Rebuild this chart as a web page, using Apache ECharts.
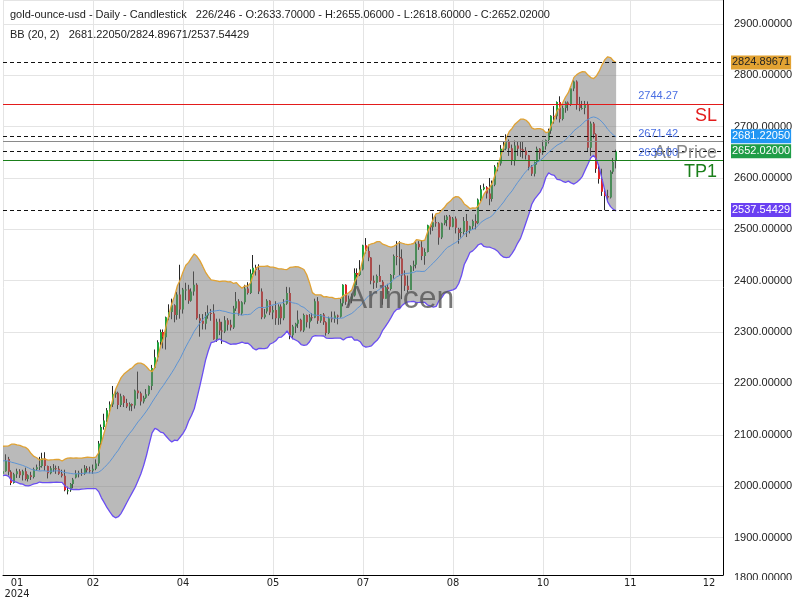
<!DOCTYPE html>
<html><head><meta charset="utf-8">
<script src="https://cdn.jsdelivr.net/npm/echarts@6/dist/echarts.min.js"></script>
<style>html,body{margin:0;padding:0;background:#fff}#c{width:800px;height:600px}</style>
</head><body><div id="c"></div><script>
// ---------------- data ----------------
const headerLine1 = 'gold-ounce-usd - Daily - Candlestick   226/246 - O:2633.70000 - H:2655.06000 - L:2618.60000 - C:2652.02000';
const headerLine2 = 'BB (20, 2)   2681.22050/2824.89671/2537.54429';
const watermark = 'Arincen';

// closes before the first visible candle (needed for the 20-period band)
const warmupCloses = [2040,2045,2050,2048,2060,2055,2063,2058,2068,2077,2066,2053,2060,2042,2043,2045,2027,2030,2024];

const opens = [2024,2029,2053,2028,2006,2023,2029,2021,2029,2014,2021,2018,2033,2037,2039,2054,2039,2025,2035,2035,2034,2024,2020,1992,1992,2004,2017,2024,2026,2024,2035,2031,2030,2034,2044,2083,2115,2128,2148,2159,2179,2182,2158,2175,2162,2155,2160,2157,2186,2181,2165,2172,2179,2195,2230,2251,2280,2300,2290,2329,2339,2352,2333,2373,2344,2383,2383,2361,2379,2392,2327,2322,2316,2332,2337,2336,2286,2320,2303,2301,2323,2314,2309,2346,2360,2336,2358,2385,2376,2414,2425,2421,2379,2329,2340,2361,2338,2343,2327,2350,2327,2355,2376,2294,2311,2316,2324,2303,2333,2319,2329,2328,2360,2322,2334,2319,2298,2327,2326,2332,2330,2356,2392,2359,2364,2371,2415,2411,2422,2469,2458,2445,2400,2396,2409,2398,2365,2387,2384,2411,2448,2446,2443,2410,2390,2382,2428,2431,2472,2465,2448,2456,2508,2504,2514,2512,2484,2512,2518,2525,2505,2521,2500,2493,2495,2516,2497,2506,2516,2512,2558,2578,2582,2570,2559,2587,2622,2628,2657,2657,2672,2658,2634,2663,2657,2656,2653,2644,2622,2608,2631,2657,2649,2662,2674,2692,2721,2720,2748,2715,2736,2747,2743,2774,2788,2744,2736,2736,2742,2659,2706,2685,2618,2598,2573,2565,2562,2612,2633.70];
const highs = [2040,2062,2057,2031,2026,2034,2033,2032,2036,2023,2028,2036,2042,2057,2065,2066,2040,2039,2043,2040,2039,2032,2032,1999,2006,2016,2031,2030,2034,2041,2039,2038,2042,2052,2088,2120,2141,2152,2165,2195,2189,2184,2180,2177,2170,2163,2161,2188,2223,2184,2176,2189,2196,2236,2266,2284,2305,2305,2330,2354,2365,2354,2378,2431,2386,2396,2392,2385,2418,2395,2335,2335,2339,2352,2345,2354,2326,2326,2320,2331,2327,2324,2351,2378,2364,2360,2392,2397,2422,2450,2431,2432,2385,2345,2364,2362,2351,2360,2354,2354,2364,2388,2387,2314,2318,2342,2326,2336,2334,2335,2337,2365,2368,2335,2337,2321,2330,2340,2340,2334,2365,2393,2393,2371,2375,2424,2424,2440,2470,2483,2470,2446,2410,2412,2431,2401,2390,2394,2413,2451,2477,2477,2461,2420,2410,2430,2439,2475,2477,2479,2463,2509,2509,2531,2525,2514,2513,2527,2528,2528,2524,2525,2503,2503,2524,2530,2507,2519,2529,2560,2586,2589,2584,2600,2595,2625,2630,2664,2670,2685,2675,2665,2673,2670,2672,2670,2660,2645,2625,2632,2661,2658,2673,2675,2696,2722,2740,2749,2759,2741,2749,2749,2775,2790,2790,2758,2750,2750,2749,2710,2709,2687,2627,2618,2580,2577,2615,2639,2655.06];
const lows = [2013,2028,2021,2002,2005,2016,2016,2011,2011,2009,2012,2015,2030,2031,2036,2030,2015,2023,2028,2024,2022,2017,1990,1984,1989,1996,2015,2017,2020,2022,2026,2025,2024,2031,2039,2076,2110,2125,2140,2154,2172,2150,2154,2154,2152,2147,2146,2151,2170,2157,2161,2170,2176,2187,2228,2243,2274,2268,2266,2323,2325,2319,2324,2326,2336,2362,2355,2359,2371,2324,2291,2305,2305,2326,2322,2285,2281,2294,2277,2298,2303,2303,2306,2341,2332,2333,2354,2373,2374,2412,2410,2374,2325,2326,2336,2333,2325,2314,2314,2315,2323,2353,2286,2286,2298,2308,2301,2300,2309,2307,2322,2327,2316,2318,2314,2293,2296,2319,2318,2315,2328,2350,2353,2352,2356,2369,2391,2409,2420,2453,2438,2393,2384,2386,2398,2353,2365,2374,2381,2404,2430,2410,2364,2380,2377,2382,2419,2424,2460,2440,2431,2455,2490,2497,2505,2470,2481,2508,2506,2499,2504,2492,2472,2484,2490,2485,2492,2500,2500,2510,2554,2576,2560,2547,2554,2584,2613,2624,2652,2654,2643,2625,2624,2643,2641,2638,2636,2615,2604,2603,2626,2636,2645,2655,2667,2686,2706,2714,2708,2712,2727,2731,2740,2769,2733,2730,2733,2724,2652,2643,2677,2610,2589,2565,2537,2555,2560,2608,2618.60];
const closes = [2029,2049,2028,2006,2023,2029,2021,2029,2014,2021,2018,2033,2037,2039,2054,2039,2025,2035,2035,2034,2024,2020,1992,1992,2004,2013,2024,2026,2024,2035,2031,2030,2034,2044,2083,2115,2128,2148,2159,2179,2182,2158,2175,2162,2155,2160,2157,2186,2181,2165,2172,2179,2195,2230,2251,2280,2300,2290,2329,2339,2352,2333,2373,2344,2383,2383,2361,2379,2392,2327,2322,2316,2332,2337,2336,2286,2320,2303,2301,2323,2314,2309,2346,2360,2336,2358,2385,2376,2414,2425,2421,2379,2329,2334,2361,2338,2343,2327,2350,2327,2355,2376,2294,2311,2316,2324,2303,2333,2319,2329,2328,2360,2322,2334,2319,2298,2327,2326,2332,2330,2356,2392,2359,2364,2371,2415,2411,2422,2469,2458,2445,2400,2396,2409,2398,2365,2387,2384,2411,2448,2446,2443,2410,2390,2382,2428,2431,2472,2465,2448,2456,2508,2504,2514,2512,2484,2512,2518,2525,2505,2521,2503,2493,2495,2516,2497,2506,2516,2512,2558,2578,2582,2570,2559,2587,2622,2628,2657,2657,2672,2658,2634,2663,2657,2656,2653,2644,2622,2608,2631,2657,2649,2662,2674,2692,2721,2720,2748,2715,2736,2747,2743,2774,2788,2744,2736,2736,2742,2659,2706,2685,2618,2598,2573,2565,2562,2612,2631,2652.02];

const slotCount = 257;                       // bar slots across the visible axis
const tickSlots = [5, 32, 64, 96, 128, 160, 192, 223, 251];
const tickTexts = ['01\n2024', '02', '04', '05', '07', '08', '10', '11', '12'];
const gridSlots = [0, 32, 64, 96, 128, 160, 192, 223];
const cutTickValue = 1800;                   // tick just below the plot, half hidden

const bbLastValues = [2824.89671, 2681.22050, 2537.54429];  // upper / middle / lower
const lastClose = 2652.02;
const levelNames = ['SL', 'At Price', 'TP1'];
const levelValues = [2744.27, 2671.42, 2635.00];

// ---------------- derived tables ----------------
const slots = Array.from({length: slotCount}, (_, i) => String(i));
const candleData = closes.map((c, i) => [i, opens[i], c, lows[i], highs[i]]);
const allCloses = warmupCloses.concat(closes);
const bbUp = [], bbMid = [], bbLow = [], bbWidth = [];
for (let i = 0; i < closes.length; i++) {
  const w = allCloses.slice(i, i + 20);
  const m = w.reduce((a, b) => a + b, 0) / w.length;
  const sd = Math.sqrt(w.reduce((a, b) => a + (b - m) * (b - m), 0) / w.length);
  bbMid.push(m); bbUp.push(m + 2 * sd); bbLow.push(m - 2 * sd); bbWidth.push(4 * sd);
}

const UP = '#20a23c', DOWN = '#e02222', WICK = '#262626';
const FONT = '"Liberation Sans", Arial, sans-serif';

function renderCandle(params, api) {
  const x = api.value(0), o = api.value(1), c = api.value(2), l = api.value(3), h = api.value(4);
  const pO = api.coord([x, o]), pC = api.coord([x, c]), pL = api.coord([x, l]), pH = api.coord([x, h]);
  const cx = Math.round(pO[0]);
  const top = Math.min(pO[1], pC[1]);
  const bh = Math.max(1, Math.abs(pO[1] - pC[1]));
  return {
    type: 'group',
    children: [
      {type: 'line', shape: {x1: cx - 0.5, y1: pH[1], x2: cx - 0.5, y2: pL[1]}, style: {stroke: WICK, lineWidth: 1}},
      {type: 'rect', shape: {x: cx - 1, y: top, width: 2, height: bh}, style: {fill: c >= o ? UP : DOWN}}
    ]
  };
}

const tagColors = ['#e2a232', '#2196f3', '#1f9d47', '#6a40f2'];
const tagText = ['#222', '#fff', '#fff', '#fff'];
const tagValues = [bbLastValues[0], bbLastValues[1], lastClose, bbLastValues[2]];
const levelColors = ['#e31b1b', '#8a8a8a', '#1a7f1a'];

const markData = [];
tagValues.forEach((v, i) => {
  markData.push({
    yAxis: v,
    lineStyle: {color: '#111', type: [4, 3], width: 1},
    label: {show: true, position: 'end', distance: [8, 0], formatter: () => v.toFixed(5),
      backgroundColor: tagColors[i], color: tagText[i], padding: [2, 1, 1, 1], fontSize: 11, fontFamily: FONT}
  });
});
levelValues.forEach((v, i) => {
  markData.push({
    yAxis: v, name: levelNames[i],
    lineStyle: {color: levelColors[i], type: 'solid', width: 1},
    label: {show: true, position: 'insideEndBottom', distance: [6, 3], formatter: '{b}',
      color: levelColors[i], fontSize: 18, fontFamily: FONT}
  });
  markData.push({
    yAxis: v, name: 'v' + i,
    lineStyle: {color: 'rgba(0,0,0,0)', width: 0},
    label: {show: true, position: 'insideEndTop', distance: [45, 2], formatter: () => v.toFixed(2),
      color: '#4a6fe3', fontSize: 11, fontFamily: FONT}
  });
});

const chart = echarts.init(document.getElementById('c'), null, {renderer: 'canvas'});
chart.setOption({
  animation: false,
  backgroundColor: '#fff',
  title: {
    left: 10, top: 9, padding: 0, itemGap: 9,
    text: headerLine1, subtext: headerLine2,
    textStyle: {fontSize: 11, fontWeight: 'normal', color: '#222', fontFamily: FONT},
    subtextStyle: {fontSize: 11, color: '#222', fontFamily: FONT}
  },
  grid: {left: 3, right: 77, top: 0, bottom: 25},
  xAxis: {
    type: 'category', data: slots, boundaryGap: false,
    axisLine: {lineStyle: {color: '#000', width: 1}},
    axisTick: {show: false},
    axisLabel: {
      interval: (idx) => tickSlots.indexOf(idx) >= 0,
      formatter: (val, idx) => tickTexts[tickSlots.indexOf(Number(val))] || '',
      color: '#222', fontSize: 11, lineHeight: 11, margin: 3,
      fontFamily: '"DejaVu Sans Condensed", "Liberation Sans Narrow", sans-serif'
    },
    splitLine: {show: true, interval: (idx) => gridSlots.indexOf(idx) >= 0, lineStyle: {color: '#e4e4e4'}}
  },
  yAxis: {
    type: 'value', position: 'right', min: 1827, max: 2946.5, splitNumber: 11, scale: true,
    axisLine: {show: true, lineStyle: {color: '#000', width: 1}},
    axisTick: {show: false},
    axisLabel: {formatter: v => v.toFixed(5), color: '#222', fontSize: 11, margin: 11, fontFamily: FONT,
      showMinLabel: false, showMaxLabel: false},
    splitLine: {show: true, lineStyle: {color: '#e4e4e4'}}
  },
  series: [
    {type: 'custom', name: 'candles', renderItem: renderCandle, data: candleData, z: 2,
      encode: {x: 0, y: [1, 2, 3, 4]}, clip: true},
    {type: 'line', name: 'bbLower', data: bbLow, stack: 'bb', symbol: 'none', z: 4,
      lineStyle: {color: '#6a4ef2', width: 1.3}},
    {type: 'line', name: 'bbFill', data: bbWidth, stack: 'bb', symbol: 'none', z: 3,
      lineStyle: {width: 0, opacity: 0}, areaStyle: {color: 'rgba(118,118,118,0.5)', opacity: 1}},
    {type: 'line', name: 'bbUpper', data: bbUp, symbol: 'none', z: 4,
      lineStyle: {color: '#e0a233', width: 1.3}},
    {type: 'line', name: 'bbMid', data: bbMid, symbol: 'none', z: 5,
      lineStyle: {color: '#5d94d4', width: 1},
      markLine: {symbol: 'none', silent: true, animation: false, precision: 5, data: markData}}
  ]
});

// watermark plus the half-hidden tick label just below the plot (placed through the axis scales)
const bottomY = chart.convertToPixel({yAxisIndex: 0}, 1827);
const axisX = chart.convertToPixel({xAxisIndex: 0}, String(slotCount - 1));
chart.setOption({
  graphic: [
    {type: 'text', x: 400, y: 299, z: 100,
      style: {text: watermark, fontSize: 32, fontFamily: FONT, fill: 'rgba(85,85,85,0.8)', align: 'center', verticalAlign: 'middle'}},
    {type: 'text', x: axisX + 11, y: bottomY + 3, z: 50,
      style: {text: cutTickValue.toFixed(5), fontSize: 11, fontFamily: FONT, fill: '#222', align: 'left', verticalAlign: 'middle'}},
    {type: 'rect', shape: {x: axisX + 2, y: bottomY + 5, width: 80, height: 30}, z: 51, style: {fill: '#fff'}}
  ]
});
</script></body></html>
